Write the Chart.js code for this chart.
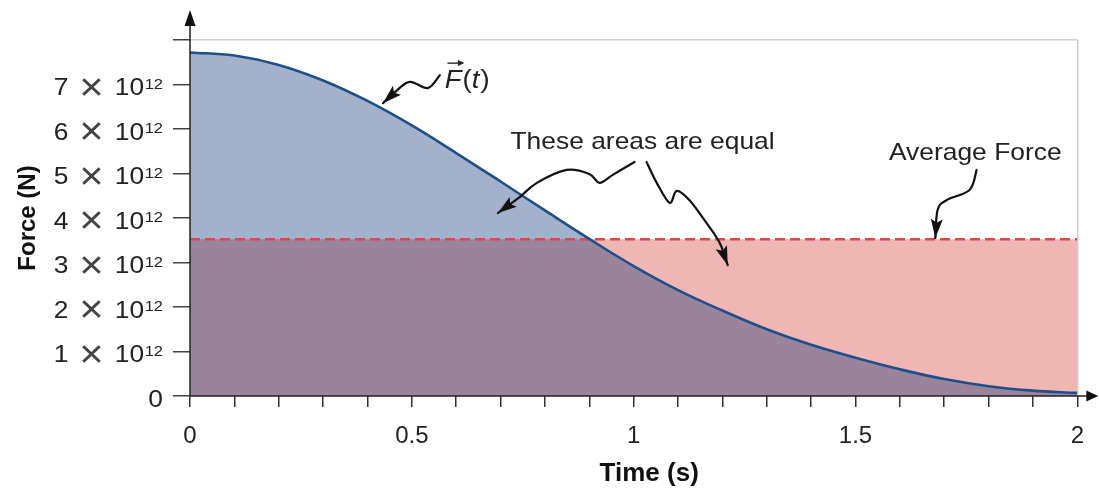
<!DOCTYPE html>
<html>
<head>
<meta charset="utf-8">
<script src="https://cdn.jsdelivr.net/npm/chart.js@4.4.1/dist/chart.umd.min.js"></script>
<style>
  html, body { margin: 0; padding: 0; background: #fff; }
</style>
</head>
<body>
<canvas id="mycanvas" width="1099" height="491"></canvas>
<script>
// time in seconds, force in units of 10^12 N
var timeS = [0, 0.1, 0.2, 0.3, 0.4, 0.5, 0.6, 0.7, 0.8, 0.9, 1.0,
             1.1, 1.2, 1.3, 1.4, 1.5, 1.6, 1.7, 1.8, 1.9, 2.0];
var forceN = [7.72, 7.65, 7.44, 7.09, 6.63, 6.08, 5.46, 4.82, 4.17, 3.53, 2.92,
              2.38, 1.92, 1.50, 1.15, 0.86, 0.60, 0.38, 0.22, 0.12, 0.07];
var averageForce = 3.52;
var avgTimes = [0, 2];

var xTickLabels = ['0', '0.5', '1', '1.5', '2'];
var yTickLabels = ['0', '1', '2', '3', '4', '5', '6', '7', ''];
var yExponent = '12';

var FONT = "'Liberation Sans', Arial, Helvetica, sans-serif";
var STRETCH = 1.1;
Chart.defaults.font.family = FONT;
Chart.defaults.color = '#222';

var curvePoints = [];
for (var i in timeS) {
	curvePoints.push({x: timeS[i], y: forceN[i]});
}
var avgPoints = avgTimes.map(function(t) { return {x: t, y: averageForce}; });

// axis lines with arrow heads
var axisArrows = {
	id: 'axisArrows',
	afterDraw: function(chart) {
		var ctx = chart.ctx, a = chart.chartArea;
		ctx.save();
		ctx.strokeStyle = '#222';
		ctx.fillStyle = '#111';
		ctx.lineWidth = 1.5;
		ctx.beginPath();
		ctx.moveTo(a.left, a.bottom);
		ctx.lineTo(a.left, a.top - 16);
		ctx.moveTo(a.left, a.bottom);
		ctx.lineTo(a.right + 12, a.bottom);
		ctx.stroke();
		ctx.beginPath();
		ctx.moveTo(a.left, a.top - 30);
		ctx.lineTo(a.left - 5.5, a.top - 14);
		ctx.lineTo(a.left + 5.5, a.top - 14);
		ctx.closePath();
		ctx.fill();
		ctx.beginPath();
		ctx.moveTo(a.right + 21, a.bottom);
		ctx.lineTo(a.right + 9, a.bottom - 5.5);
		ctx.lineTo(a.right + 9, a.bottom + 5.5);
		ctx.closePath();
		ctx.fill();
		ctx.restore();
	}
};

// y tick labels of the form "7 x 10^12" and the x axis title
var axisText = {
	id: 'axisText',
	afterDraw: function(chart) {
		var ctx = chart.ctx, ys = chart.scales.y, xs = chart.scales.x, a = chart.chartArea;
		ys.ticks.forEach(function(tick, k) {
			var m = yTickLabels[k];
			if (!m) return;
			var y = ys.getPixelForValue(tick.value);
			ctx.save();
			ctx.translate(a.left - 27, y);
			ctx.scale(STRETCH, 1);
			ctx.fillStyle = '#222';
			ctx.textBaseline = 'alphabetic';
			ctx.textAlign = 'right';
			ctx.font = '24px ' + FONT;
			if (m === '0') {
				ctx.fillText(m, 0, 10.5);
				ctx.restore();
				return;
			}
			ctx.font = '15px ' + FONT;
			ctx.fillText(yExponent, 0, 4);
			var we = ctx.measureText(yExponent).width;
			ctx.font = '24px ' + FONT;
			ctx.fillText('10', -we - 0.5, 10.5);
			ctx.font = '38px ' + FONT;
			ctx.fillStyle = '#444';
			ctx.textAlign = 'center';
			ctx.fillText('\u00D7', -65, 15);
			ctx.fillStyle = '#222';
			ctx.textAlign = 'right';
			ctx.font = '24px ' + FONT;
			ctx.fillText(m, -86, 10.5);
			ctx.restore();
		});

		ctx.save();
		ctx.translate(xs.getPixelForValue(1.035), chart.height - 17);
		ctx.scale(1.04, 1);
		ctx.fillStyle = '#111';
		ctx.textAlign = 'center';
		ctx.textBaseline = 'middle';
		ctx.font = 'bold 25px ' + FONT;
		ctx.fillText('Time (s)', 0, 0);
		ctx.restore();
	}
};

// squiggly arrows and notes, placed in data units
var arrowPaths = [
	[[0.563, 7.21], [0.536, 6.92], [0.495, 7.06], [0.462, 6.83], [0.435, 6.58]],
	[[1.002, 5.26], [0.953, 4.97], [0.923, 4.79], [0.900, 4.99], [0.849, 5.08], [0.782, 4.79], [0.743, 4.47], [0.694, 4.11]],
	[[1.029, 5.26], [1.052, 4.79], [1.081, 4.34], [1.097, 4.61], [1.126, 4.40], [1.164, 3.89], [1.194, 3.44], [1.212, 2.94]],
	[[1.773, 5.08], [1.757, 4.63], [1.705, 4.40], [1.685, 4.18], [1.680, 3.55]]
];

function drawArrow(ctx, pts) {
	ctx.beginPath();
	ctx.moveTo(pts[0][0], pts[0][1]);
	for (var k = 0; k < pts.length - 1; k++) {
		var p0 = pts[k - 1] || pts[k], p1 = pts[k], p2 = pts[k + 1], p3 = pts[k + 2] || p2;
		ctx.bezierCurveTo(p1[0] + (p2[0] - p0[0]) / 6, p1[1] + (p2[1] - p0[1]) / 6,
			p2[0] - (p3[0] - p1[0]) / 6, p2[1] - (p3[1] - p1[1]) / 6, p2[0], p2[1]);
	}
	ctx.stroke();
	var tip = pts[pts.length - 1], prev = pts[pts.length - 2];
	var ang = Math.atan2(tip[1] - prev[1], tip[0] - prev[0]);
	var len = 19, w = 6;
	ctx.beginPath();
	ctx.moveTo(tip[0], tip[1]);
	ctx.lineTo(tip[0] - len * Math.cos(ang) + w * Math.sin(ang), tip[1] - len * Math.sin(ang) - w * Math.cos(ang));
	ctx.lineTo(tip[0] - len * 0.8 * Math.cos(ang), tip[1] - len * 0.8 * Math.sin(ang));
	ctx.lineTo(tip[0] - len * Math.cos(ang) - w * Math.sin(ang), tip[1] - len * Math.sin(ang) + w * Math.cos(ang));
	ctx.closePath();
	ctx.fill();
}

function stretchedText(ctx, text, x, y) {
	ctx.save();
	ctx.translate(x, y);
	ctx.scale(STRETCH, 1);
	ctx.fillText(text, 0, 0);
	ctx.restore();
}

var notes = {
	id: 'notes',
	afterDraw: function(chart) {
		var ctx = chart.ctx, xs = chart.scales.x, ys = chart.scales.y;
		ctx.save();
		ctx.strokeStyle = '#111';
		ctx.fillStyle = '#111';
		ctx.lineWidth = 2.2;
		ctx.lineCap = 'round';
		arrowPaths.forEach(function(path) {
			drawArrow(ctx, path.map(function(p) {
				return [xs.getPixelForValue(p[0]), ys.getPixelForValue(p[1])];
			}));
		});

		ctx.fillStyle = '#222';
		ctx.textBaseline = 'middle';
		ctx.textAlign = 'center';
		ctx.font = '24px ' + FONT;
		stretchedText(ctx, 'These areas are equal', xs.getPixelForValue(1.02), ys.getPixelForValue(5.69));
		stretchedText(ctx, 'Average Force', xs.getPixelForValue(1.77), ys.getPixelForValue(5.46));

		// F(t) with vector arrow
		ctx.textAlign = 'left';
		ctx.textBaseline = 'alphabetic';
		var fx = xs.getPixelForValue(0.574), fy = ys.getPixelForValue(6.92);
		ctx.translate(fx, fy);
		ctx.scale(STRETCH, 1);
		ctx.font = 'italic 25px ' + FONT;
		ctx.fillText('F', 0, 0);
		var wF = ctx.measureText('F').width;
		ctx.font = '25px ' + FONT;
		ctx.fillText('(', wF + 1, 0);
		var wP = ctx.measureText('(').width;
		ctx.font = 'italic 25px ' + FONT;
		ctx.fillText('t', wF + wP + 1, 0);
		var wT = ctx.measureText('t').width;
		ctx.font = '25px ' + FONT;
		ctx.fillText(')', wF + wP + wT + 2, 0);
		ctx.lineWidth = 1.3;
		ctx.beginPath();
		ctx.moveTo(3, -25);
		ctx.lineTo(16, -25);
		ctx.stroke();
		ctx.beginPath();
		ctx.moveTo(18, -25);
		ctx.lineTo(12, -28);
		ctx.lineTo(12, -22);
		ctx.closePath();
		ctx.fill();
		ctx.restore();
	}
};

var ctx = document.getElementById('mycanvas');

var chart = new Chart(ctx, {
	type: 'line',
	data: {
		datasets: [
			{
				label: 'F(t)',
				data: curvePoints,
				borderColor: '#1f4f8a',
				borderWidth: 2.6,
				backgroundColor: 'rgba(13, 50, 118, 0.38)',
				fill: 'origin',
				pointRadius: 0,
				tension: 0.4
			},
			{
				label: 'Average Force',
				data: avgPoints,
				borderColor: '#dc4848',
				borderWidth: 2.5,
				borderDash: [10, 5],
				backgroundColor: '#efb6b3',
				fill: 'origin',
				pointRadius: 0
			}
		]
	},
	options: {
		responsive: false,
		animation: false,
		devicePixelRatio: 1,
		layout: { padding: { top: 40, right: 21, left: 0, bottom: 0 } },
		plugins: {
			legend: { display: false },
			tooltip: { enabled: false },
			filler: { drawTime: 'beforeDatasetsDraw' }
		},
		scales: {
			x: {
				type: 'linear',
				min: 0,
				max: 2,
				afterFit: function(s) { s.height = 95; },
				border: { display: false },
				grid: {
					color: function(c) { return c.tick && c.tick.value === 2 ? '#cfcfcf' : 'rgba(0,0,0,0)'; },
					tickColor: '#333',
					tickLength: 11,
					lineWidth: 1.5
				},
				ticks: {
					stepSize: 0.1,
					autoSkip: false,
					maxRotation: 0,
					padding: 15,
					color: '#222',
					font: { size: 24 },
					callback: function(v, i) { return i % 5 === 0 ? xTickLabels[i / 5] : ''; }
				}
			},
			y: {
				min: 0,
				max: 8,
				afterFit: function(s) { s.width = 190; },
				border: { display: false },
				grid: {
					color: function(c) { return c.tick && c.tick.value === 8 ? '#cfcfcf' : 'rgba(0,0,0,0)'; },
					tickColor: '#444',
					tickLength: 17,
					lineWidth: 1.5
				},
				ticks: {
					stepSize: 1,
					callback: function() { return ''; }
				},
				title: {
					display: true,
					text: 'Force (N)',
					color: '#111',
					font: { size: 24, weight: 'bold' },
					padding: { top: 14, bottom: 0 }
				}
			}
		}
	},
	plugins: [axisArrows, axisText, notes]
});
</script>
</body>
</html>
